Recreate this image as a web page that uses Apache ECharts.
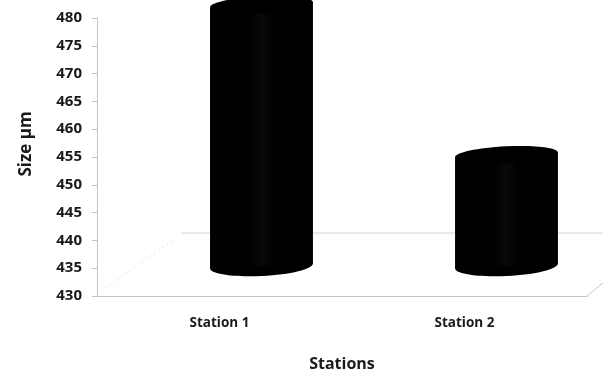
<!DOCTYPE html>
<html>
<head>
<meta charset="utf-8">
<script src="https://cdn.jsdelivr.net/npm/echarts@6/dist/echarts.min.js"></script>
<style>
  html, body { margin: 0; padding: 0; background: #fff; }
  #chart { width: 611px; height: 374px; }
</style>
</head>
<body>
<div id="chart"></div>
<script>
// Mean size per sampling station
const stations = ['Station 1', 'Station 2'];
const sizes = [477, 450];
const yMin = 430, yMax = 480, yStep = 5;

// 3D look: cylinders sit part-way into the floor depth
const depthDx = 42, depthDy = -30;
const ellipseRy = 10, tilt = 0.05;

const FONT = '"Open Sans", sans-serif';
const TEXT = '#1a1a1a';
const AXIS = '#c4c4c4';

const chart = echarts.init(document.getElementById('chart'), null, { renderer: 'canvas' });

function renderCylinder(params, api) {
  const idx = api.value(0);
  const val = api.value(1);
  const base = api.coord([idx, yMin]);
  const top = api.coord([idx, val]);
  const w = api.size([1, 0])[0] * 0.42;
  const rx = w / 2;
  const cx = base[0] + depthDx;
  const yb = base[1] + depthDy;
  const yt = top[1] + depthDy;
  const s = rx * Math.sin(tilt);
  const fill = new echarts.graphic.LinearGradient(0, 0, 1, 0, [
    { offset: 0, color: '#000' },
    { offset: 0.38, color: '#000' },
    { offset: 0.5, color: '#080808' },
    { offset: 0.62, color: '#000' },
    { offset: 1, color: '#000' }
  ]);
  return {
    type: 'group',
    children: [
      {
        type: 'ellipse',
        shape: { cx: cx, cy: yb, rx: rx, ry: ellipseRy },
        rotation: tilt, originX: cx, originY: yb,
        style: { fill: '#000' }
      },
      {
        type: 'polygon',
        shape: { points: [[cx - rx, yt + s], [cx + rx, yt - s], [cx + rx, yb - s], [cx - rx, yb + s]] },
        style: { fill: fill }
      },
      {
        type: 'ellipse',
        shape: { cx: cx, cy: yt, rx: rx, ry: ellipseRy * 0.85 },
        rotation: tilt, originX: cx, originY: yt,
        style: { fill: '#000' }
      }
    ]
  };
}

// Floor outline of the 3D plot area
function renderFloor(params, api) {
  const cs = params.coordSys;
  const left = cs.x, right = cs.x + cs.width, bottom = cs.y + cs.height;
  return {
    type: 'group',
    silent: true,
    children: [
      { type: 'line', shape: { x1: left + 84, y1: bottom - 63, x2: right + 16, y2: bottom - 63 },
        style: { stroke: '#d6d6d6', lineWidth: 1 } },
      { type: 'line', shape: { x1: right, y1: bottom, x2: right + 16, y2: bottom - 13 },
        style: { stroke: AXIS, lineWidth: 1 } },
      { type: 'line', shape: { x1: left + 8, y1: bottom - 8, x2: left + 76, y2: bottom - 56 },
        style: { stroke: '#e4e4e4', lineWidth: 1, lineDash: [2, 3] } }
    ]
  };
}

chart.setOption({
  animation: false,
  backgroundColor: '#fff',
  grid: { left: 97, right: 24, top: 18, bottom: 78, containLabel: false, outerBoundsMode: 'none' },
  xAxis: {
    type: 'category',
    data: stations,
    name: 'Stations',
    nameLocation: 'middle',
    nameGap: 60,
    nameTextStyle: { fontFamily: FONT, fontWeight: 'bold', fontSize: 16, color: TEXT },
    axisLine: { lineStyle: { color: AXIS, width: 1 } },
    axisTick: { show: false },
    axisLabel: { margin: 20, fontFamily: FONT, fontWeight: 'bold', fontSize: 13.5, color: TEXT }
  },
  yAxis: {
    type: 'value',
    min: yMin, max: yMax, interval: yStep,
    name: 'Size µm',
    nameLocation: 'middle',
    nameGap: 62,
    nameRotate: 90,
    nameTextStyle: { fontFamily: FONT, fontWeight: 'bold', fontSize: 17, color: TEXT, padding: [0, 0, 0, 26] },
    axisLine: { show: true, lineStyle: { color: AXIS, width: 1 } },
    axisTick: { show: true, length: 5, lineStyle: { color: AXIS } },
    splitLine: { show: false },
    axisLabel: { margin: 15, fontFamily: FONT, fontWeight: 'bold', fontSize: 15, color: TEXT }
  },
  series: [
    {
      type: 'custom',
      name: 'floor',
      renderItem: renderFloor,
      data: [[0, yMin]],
      clip: false,
      silent: true,
      z: 1
    },
    {
      type: 'custom',
      name: 'Size',
      renderItem: renderCylinder,
      data: stations.map((s, i) => [i, sizes[i]]),
      clip: false,
      z: 2
    }
  ]
});
</script>
</body>
</html>
